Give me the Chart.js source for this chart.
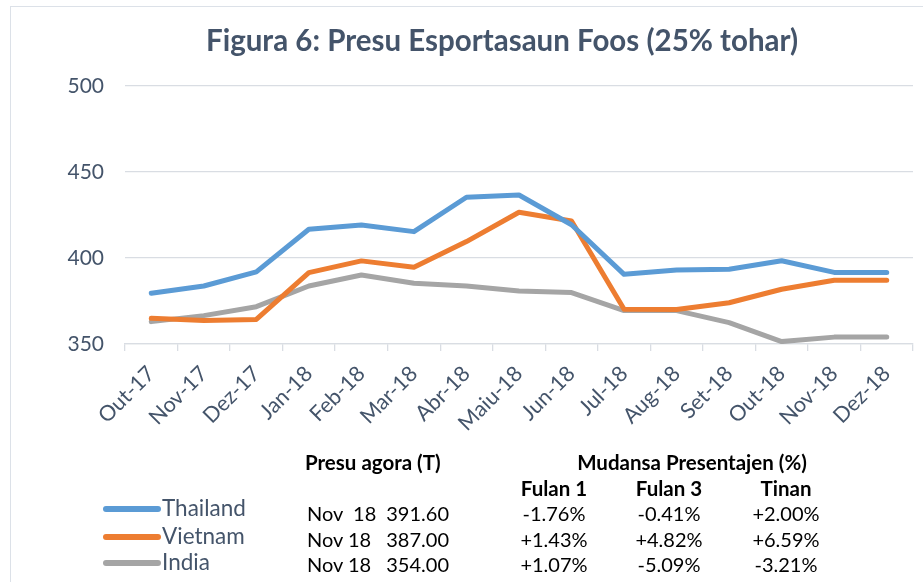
<!DOCTYPE html>
<html>
<head>
<meta charset="utf-8">
<script src="https://cdn.jsdelivr.net/npm/chart.js@4.4.1/dist/chart.umd.min.js"></script>
<style>
  html, body { margin: 0; padding: 0; background: #fff; width: 923px; height: 582px; overflow: hidden; }
  #wrap { position: relative; width: 923px; height: 582px; }
  #frame { position: absolute; left: 10px; top: 6px; width: 960px; height: 620px; border: 1.5px solid #DCE1E8; box-sizing: border-box; }
  canvas { position: absolute; left: 0; top: 0; }
  .t { position: absolute; transform: translateY(-50%); white-space: pre; font-family: Lato, "Open Sans", sans-serif; color: #000; line-height: 1; }
  .b { font-weight: bold; font-size: 20.5px; }
  .r { font-size: 20px; }
  .c { transform: translate(-50%, -50%); }
  .rt { transform: translate(-100%, -50%); }
  .leg { position: absolute; height: 6px; border-radius: 3px; transform: translateY(-50%); }
  .legt { color: #44546A; font-size: 22.5px; }
</style>
</head>
<body>
<div id="wrap">
  <div id="frame"></div>
  <canvas id="c" width="923" height="582"></canvas>
  <div id="table"></div>
</div>
<script>
const categories = ['Out-17','Nov-17','Dez-17','Jan-18','Feb-18','Mar-18','Abr-18','Maiu-18','Jun-18','Jul-18','Aug-18','Set-18','Out-18','Nov-18','Dez-18'];
const thailand = [379.5, 383.7, 391.9, 416.7, 419.2, 415.3, 435.3, 436.6, 419.3, 390.5, 393.0, 393.4, 398.4, 391.6, 391.6];
const vietnam  = [364.9, 363.6, 364.3, 391.5, 398.3, 394.6, 409.5, 426.6, 421.5, 370.2, 370.0, 374.0, 381.8, 387.0, 387.0];
const india    = [363.0, 366.5, 371.7, 383.7, 390.1, 385.3, 383.7, 380.8, 379.9, 369.4, 369.4, 362.4, 351.4, 354.0, 354.0];
const seriesNames = ['Thailand', 'Vietnam', 'India'];
const seriesColors = ['#5B9BD5', '#ED7D31', '#A5A5A5'];
const yTicks = [350, 400, 450, 500];
const titleText = 'Figura 6: Presu Esportasaun Foos (25% tohar)';

// table content
const tableHeader1 = ['Presu agora (T)', 'Mudansa Presentajen (%)'];
const tableHeader2 = ['Fulan 1', 'Fulan 3', 'Tinan'];
const priceDates = ['Nov  18', 'Nov 18', 'Nov 18'];
const priceValues = ['391.60', '387.00', '354.00'];
const changeMonth1 = ['-1.76%', '+1.43%', '+1.07%'];
const changeMonth3 = ['-0.41%', '+4.82%', '-5.09%'];
const changeYear = ['+2.00%', '+6.59%', '-3.21%'];

const seriesData = [thailand, vietnam, india];

const shiftTitle = {
  id: 'shiftTitle',
  afterLayout(chart) {
    const tb = chart.titleBlock;
    if (tb) { tb.left = 91; tb.right = 913; tb.width = tb.right - tb.left; }
  }
};

new Chart(document.getElementById('c'), {
  type: 'line',
  data: {
    labels: categories,
    datasets: seriesNames.map((n, i) => ({
      label: n,
      data: seriesData[i],
      borderColor: seriesColors[i],
      backgroundColor: seriesColors[i],
      borderWidth: 5,
      pointRadius: 0,
      tension: 0,
      borderCapStyle: 'round',
      borderJoinStyle: 'round',
      fill: false
    }))
  },
  plugins: [shiftTitle],
  options: {
    responsive: false,
    devicePixelRatio: 1,
    animation: false,
    layout: { padding: { left: 40, right: 10, top: 0, bottom: 0 } },
    plugins: {
      legend: { display: false },
      tooltip: { enabled: false },
      title: {
        display: true,
        text: titleText,
        color: '#44546A',
        font: { family: 'Lato', size: 29.5, weight: 'bold' },
        padding: { top: 24, bottom: 26.5 }
      }
    },
    scales: {
      x: {
        offset: true,
        grid: { offset: true, drawOnChartArea: false, drawTicks: true, tickLength: 7, color: '#D9DDE3', lineWidth: 1.3 },
        border: { display: true, color: '#D9DDE3', width: 1.3 },
        ticks: {
          color: '#44546A',
          font: { family: 'Lato', size: 21.5 },
          maxRotation: 45, minRotation: 45,
          autoSkip: false,
          padding: 10
        },
        afterFit: (s) => { s.height = 582 - 344; }
      },
      y: {
        min: 350, max: 500,
        afterBuildTicks: (s) => { s.ticks = yTicks.map(v => ({ value: v })); },
        grid: { drawTicks: false, color: '#D9DDE3', lineWidth: 1.3 },
        border: { display: false },
        ticks: { color: '#44546A', font: { family: 'Lato', size: 21 }, padding: 21 },
        afterFit: (s) => { s.width = 125 - 40; }
      }
    }
  }
});

// HTML table
const tb = document.getElementById('table');
function add(text, x, y, cls) {
  const d = document.createElement('div');
  d.className = 't ' + cls;
  d.textContent = text;
  d.style.left = x + 'px';
  d.style.top = y + 'px';
  tb.appendChild(d);
  return d;
}
add(tableHeader1[0], 305, 462, 'b');
add(tableHeader1[1], 692, 462, 'b c');
const colX = [554, 669, 786];
tableHeader2.forEach((h, i) => add(h, colX[i], 488, 'b c'));
const rowY = [513, 539, 564];
const legY = [509, 537, 563];
seriesNames.forEach((n, i) => {
  const l = document.createElement('div');
  l.className = 'leg';
  l.style.left = '103px';
  l.style.width = '58px';
  l.style.top = legY[i] + 'px';
  l.style.background = seriesColors[i];
  tb.appendChild(l);
  add(n, 162, legY[i] - 1, 'legt');
  add(priceDates[i], 307, rowY[i], 'r');
  add(priceValues[i], 449, rowY[i], 'r rt');
  add(changeMonth1[i], colX[0], rowY[i], 'r c');
  add(changeMonth3[i], colX[1], rowY[i], 'r c');
  add(changeYear[i], colX[2], rowY[i], 'r c');
});
</script>
</body>
</html>
